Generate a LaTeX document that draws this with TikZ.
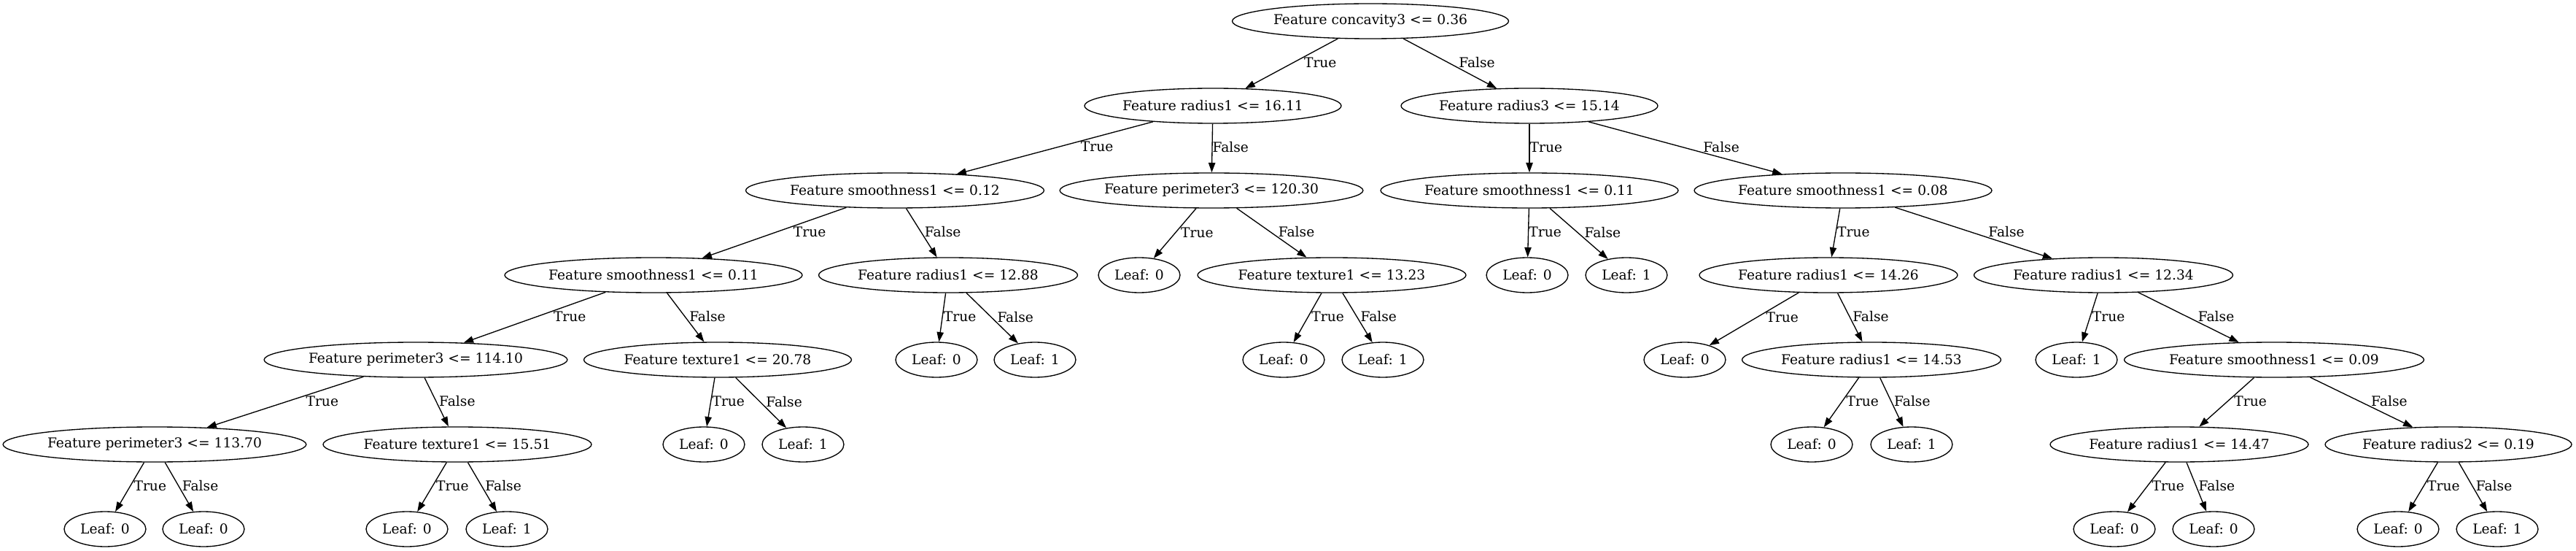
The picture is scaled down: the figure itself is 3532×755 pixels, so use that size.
\documentclass[tikz,border=0pt]{standalone}
\usepackage{fontspec}
\setmainfont{DejaVu Serif}
\usetikzlibrary{arrows.meta,shapes.geometric}
\begin{document}
\begin{tikzpicture}[x=0.75pt,y=-0.75pt,
  every node/.style={font=\fontsize{14pt}{17pt}\selectfont},
  dnode/.style={draw, ellipse, line width=1pt, inner sep=0pt, minimum height=36pt},
  wd/.style={minimum width=#1*0.75pt},
  leaf/.style={dnode, minimum width=84pt},
  arr/.style={draw, line width=1pt, -{Triangle[length=10pt,width=7pt]}},
  tl/.style={pos=0.37, anchor=north west, inner sep=0pt},
  fl/.style={pos=0.59, anchor=south west, inner sep=0pt}]
\fill[white] (0,0) rectangle (3532,755);
\path[use as bounding box] (0,0) rectangle (3532,755);
% level 0
\node[dnode,wd=379] (n0) at (1879,29) {Feature concavity3 <= 0.36};
% level 1
\node[dnode,wd=352] (n1) at (1663,145) {Feature radius1 <= 16.11};
\node[dnode,wd=352] (n2) at (2097,145) {Feature radius3 <= 15.14};
% level 2
\node[dnode,wd=409] (n3) at (1227,261) {Feature smoothness1 <= 0.12};
\node[dnode,wd=413] (n4) at (1661,261) {Feature perimeter3 <= 120.30};
\node[dnode,wd=408] (n5) at (2097,261) {Feature smoothness1 <= 0.11};
\node[dnode,wd=408] (n6) at (2527,261) {Feature smoothness1 <= 0.08};
% level 3
\node[dnode,wd=408] (n7) at (896,377) {Feature smoothness1 <= 0.11};
\node[dnode,wd=355] (n8) at (1300,377) {Feature radius1 <= 12.88};
\node[leaf] (n9) at (1562,377) {Leaf: 0};
\node[dnode,wd=368] (n10) at (1826,377) {Feature texture1 <= 13.23};
\node[leaf] (n11) at (2094,377) {Leaf: 0};
\node[leaf] (n12) at (2230,377) {Leaf: 1};
\node[dnode,wd=354] (n13) at (2507,377) {Feature radius1 <= 14.26};
\node[dnode,wd=355] (n14) at (2884,377) {Feature radius1 <= 12.34};
% level 4
\node[dnode,wd=414] (n15) at (570,493) {Feature perimeter3 <= 114.10};
\node[dnode,wd=367] (n16) at (984,493) {Feature texture1 <= 20.78};
\node[leaf] (n17) at (1284,493) {Leaf: 0};
\node[leaf] (n18) at (1419,493) {Leaf: 1};
\node[leaf] (n19) at (1760,493) {Leaf: 0};
\node[leaf] (n20) at (1896,493) {Leaf: 1};
\node[leaf] (n21) at (2310,493) {Leaf: 0};
\node[dnode,wd=355] (n22) at (2566,493) {Feature radius1 <= 14.53};
\node[leaf] (n23) at (2847,493) {Leaf: 1};
\node[dnode,wd=411] (n24) at (3118,493) {Feature smoothness1 <= 0.09};
% level 5
\node[dnode,wd=413] (n25) at (212,609) {Feature perimeter3 <= 113.70};
\node[dnode,wd=368] (n26) at (627,609) {Feature texture1 <= 15.51};
\node[leaf] (n27) at (965,609) {Leaf: 0};
\node[leaf] (n28) at (1101,609) {Leaf: 1};
\node[leaf] (n29) at (2484,609) {Leaf: 0};
\node[leaf] (n30) at (2621,609) {Leaf: 1};
\node[dnode,wd=354] (n31) at (2988,609) {Feature radius1 <= 14.47};
\node[dnode,wd=338] (n32) at (3357,609) {Feature radius2 <= 0.19};
% level 6
\node[leaf] (n33) at (144,725) {Leaf: 0};
\node[leaf] (n34) at (279,725) {Leaf: 0};
\node[leaf] (n35) at (558,725) {Leaf: 0};
\node[leaf] (n36) at (695,725) {Leaf: 1};
\node[leaf] (n37) at (2899,725) {Leaf: 0};
\node[leaf] (n38) at (3035,725) {Leaf: 0};
\node[leaf] (n39) at (3288,725) {Leaf: 0};
\node[leaf] (n40) at (3424,725) {Leaf: 1};
% edges
\foreach \p/\t/\f in {n0/n1/n2, n1/n3/n4, n2/n5/n6, n3/n7/n8, n4/n9/n10,
  n5/n11/n12, n6/n13/n14, n7/n15/n16, n8/n17/n18, n10/n19/n20,
  n13/n21/n22, n14/n23/n24, n15/n25/n26, n16/n27/n28, n22/n29/n30,
  n24/n31/n32, n25/n33/n34, n26/n35/n36, n31/n37/n38, n32/n39/n40}{
  \draw[arr] (\p) -- node[tl]{True} (\t);
  \draw[arr] (\p) -- node[fl]{False} (\f);
}
\end{tikzpicture}
\end{document}
